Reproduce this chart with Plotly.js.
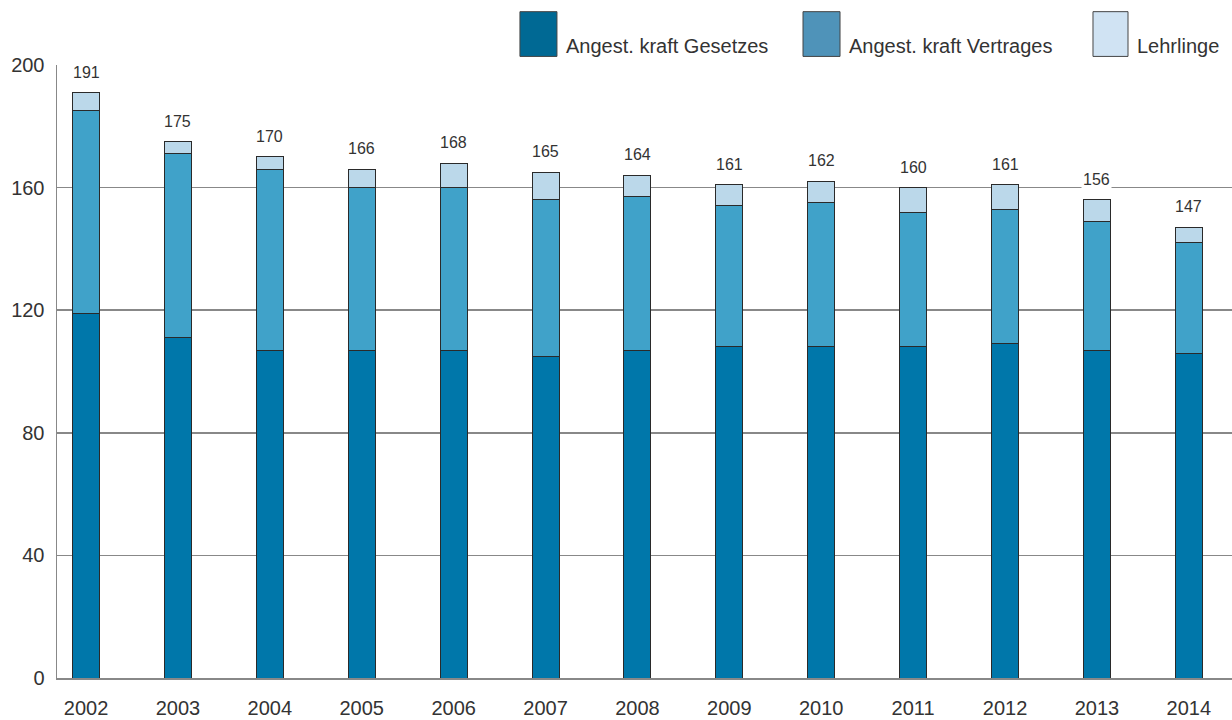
<!DOCTYPE html>
<html>
<head>
<meta charset="utf-8">
<script src="https://cdn.plot.ly/plotly-3.0.1.min.js"></script>
<style>html,body{margin:0;padding:0;background:#fff;}#chart{width:1232px;height:720px;}</style>
</head>
<body>
<div id="chart"></div>
<script>
const years = ['2002','2003','2004','2005','2006','2007','2008','2009','2010','2011','2012','2013','2014'];
const gesetzes = [119,111,107,107,107,105,107,108,108,108,109,107,106];
const vertrages = [66,60,59,53,53,51,50,46,47,44,44,42,36];
const lehrlinge = [6,4,4,6,8,9,7,7,7,8,8,7,5];
const totals = [191,175,170,166,168,165,164,161,162,160,161,156,147];
const seriesNames = ['Angest. kraft Gesetzes','Angest. kraft Vertrages','Lehrlinge'];
const yTicks = [0,40,80,120,160,200];

const barColors = ['#0077aa','#40a2c9','#bbd8ea'];
const legendColors = ['#006994','#4f93b9','#d0e3f3'];
const FONT = '"Liberation Sans", Arial, sans-serif';

const seriesVals = [gesetzes, vertrages, lehrlinge];
const traces = seriesVals.map((vals, i) => ({
  type: 'bar',
  name: seriesNames[i],
  x: years,
  y: vals,
  marker: {color: barColors[i], line: {color: '#2a2a2a', width: 1}},
  showlegend: false,
  hoverinfo: 'x+y+name'
}));

// total labels: x given as category index of each year
const annotations = years.map((yr, i) => ({
  x: i, y: totals[i], xref: 'x', yref: 'y',
  text: String(totals[i]), showarrow: false,
  yanchor: 'bottom', yshift: 10,
  bgcolor: '#ffffff', borderpad: 1,
  font: {family: FONT, size: 16, color: '#333333'}
}));

// custom legend (large swatches), positioned in paper coordinates
const legX = [[0.394, 0.4255], [0.6349, 0.6664], [0.8817, 0.9115]];
const legY = [1.014, 1.087];
const shapes = [];
seriesNames.forEach((nm, i) => {
  shapes.push({type: 'rect', xref: 'paper', yref: 'paper',
    x0: legX[i][0], x1: legX[i][1], y0: legY[0], y1: legY[1],
    fillcolor: legendColors[i], line: {color: '#444', width: 1}});
  annotations.push({xref: 'paper', yref: 'paper', x: legX[i][1] + 0.006, y: 1.031,
    xanchor: 'left', yanchor: 'middle', text: nm, showarrow: false,
    font: {family: FONT, size: 20, color: '#333333'}});
});

const layout = {
  width: 1232, height: 720,
  margin: {l: 57, r: 0, t: 65, b: 42, pad: 0},
  paper_bgcolor: '#ffffff', plot_bgcolor: '#ffffff',
  barmode: 'stack',
  bargap: 0.706,
  font: {family: FONT, color: '#333333'},
  xaxis: {
    type: 'category', range: [-0.316, 12.47],
    showgrid: false, showline: true, linecolor: '#888888', linewidth: 1.5,
    ticks: '', ticklabelstandoff: 11,
    tickfont: {family: FONT, size: 20, color: '#333333'},
    fixedrange: true
  },
  yaxis: {
    range: [0, 200], tickvals: yTicks, ticktext: yTicks.map(String),
    showgrid: true, gridcolor: '#888888', gridwidth: 1.5,
    showline: true, linecolor: '#888888', linewidth: 1.5,
    zeroline: false, ticks: '', ticklabelstandoff: 7,
    tickfont: {family: FONT, size: 20, color: '#333333'},
    fixedrange: true
  },
  annotations: annotations,
  shapes: shapes
};

Plotly.newPlot('chart', traces, layout, {displayModeBar: false, staticPlot: true});
</script>
</body>
</html>
